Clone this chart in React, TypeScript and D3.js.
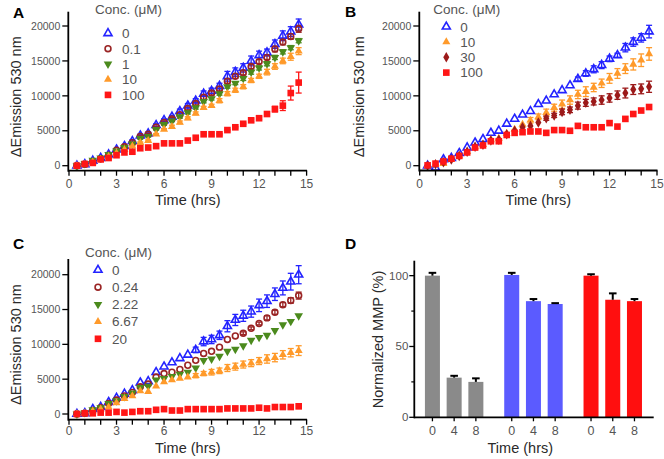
import React from 'react';
import * as d3 from 'd3';

// ---------- DATA ----------
const hours = [0.5, 1, 1.5, 2, 2.5, 3, 3.5, 4, 4.5, 5, 5.5, 6, 6.5, 7, 7.5, 8, 8.5, 9, 9.5, 10, 10.5, 11, 11.5, 12, 12.5, 13, 13.5, 14, 14.5];
const xTicks = [0, 1, 2, 3, 4, 5, 6, 7, 8, 9, 10, 11, 12, 13, 14, 15];
const xTickLabels = [0, 3, 6, 9, 12, 15];
const yTicks = [0, 5000, 10000, 15000, 20000];

// Panel A
const A_labels = ['0', '0.1', '1', '10', '100'];
const A_c0 = [0, 200, 700, 1100, 1600, 2300, 2800, 3500, 4300, 4600, 5800, 6500, 7000, 7800, 8600, 9300, 10300, 10700, 11400, 12800, 13400, 14000, 15000, 15800, 16200, 17400, 18600, 19200, 20200];
const A_c01 = [0, 200, 600, 1000, 1500, 2200, 2700, 3300, 4200, 4500, 5500, 6200, 6700, 7300, 8200, 8900, 9800, 10400, 11000, 12100, 12800, 13300, 14200, 14900, 15500, 16700, 17700, 18500, 19600];
const A_c1 = [0, 300, 800, 1100, 1600, 2100, 2600, 3100, 3900, 4200, 5200, 5900, 6400, 7000, 7600, 8300, 9200, 9600, 10300, 11300, 11800, 12500, 13400, 14000, 14600, 15500, 16300, 16900, 17900];
const A_c10 = [0, 200, 500, 900, 1300, 1800, 2300, 2800, 3300, 3600, 4500, 5200, 5600, 6200, 6800, 7500, 8300, 8600, 9300, 10300, 10800, 11300, 12200, 12800, 13400, 14200, 15000, 15600, 16400];
const A_c100 = [0, 250, 400, 900, 1100, 1500, 1900, 2000, 2500, 2600, 2800, 3200, 3200, 3200, 3600, 4000, 4500, 4500, 4500, 5100, 5500, 6000, 6500, 6800, 7400, 8100, 8600, 10400, 11900];
const A_e0 = [0, 0, 0, 0, 0, 0, 100, 200, 200, 200, 200, 200, 200, 300, 300, 300, 400, 400, 400, 700, 600, 600, 700, 600, 500, 600, 700, 700, 800];
const A_e01 = [0, 0, 0, 0, 0, 0, 0, 100, 100, 100, 100, 200, 200, 200, 200, 200, 300, 300, 300, 300, 300, 300, 300, 300, 300, 400, 400, 400, 500];
const A_e1 = [0, 0, 0, 0, 0, 0, 0, 100, 100, 100, 100, 100, 100, 200, 200, 200, 200, 200, 200, 200, 200, 300, 300, 300, 300, 300, 300, 300, 300];
const A_e10 = [0, 0, 0, 0, 0, 0, 0, 100, 100, 100, 100, 100, 200, 200, 200, 200, 200, 200, 300, 300, 300, 300, 300, 300, 400, 400, 400, 500, 500];
const A_e100 = [0, 0, 0, 0, 0, 0, 0, 0, 0, 0, 0, 0, 0, 0, 0, 0, 0, 0, 100, 100, 100, 100, 200, 200, 300, 400, 700, 1000, 1500];

// Panel B
const B_labels = ['0', '10', '30', '100'];
const B_c0 = [0, -300, 900, 1100, 1800, 2600, 3300, 3800, 4700, 5000, 6000, 6700, 7300, 7800, 8800, 9300, 10200, 10800, 11500, 12400, 13200, 13800, 14400, 15300, 15800, 16900, 17700, 18300, 19200];
const B_c10 = [0, 100, 300, 900, 1400, 2000, 2700, 3000, 3700, 3900, 4600, 5200, 5900, 6500, 7000, 7600, 8300, 8800, 9400, 10200, 10600, 11200, 11800, 12500, 13200, 13900, 14500, 15100, 16000];
const B_c30 = [0, 200, 500, 900, 1400, 2000, 2700, 3000, 3600, 3700, 4500, 5000, 5500, 5700, 6200, 6800, 7200, 7700, 8000, 8600, 9000, 9200, 9400, 9700, 10100, 10400, 10900, 11000, 11300];
const B_c100 = [50, 300, 600, 1000, 1400, 1900, 2600, 2900, 3500, 3500, 4400, 4700, 4800, 4900, 4900, 4700, 5100, 5100, 5000, 5700, 5500, 5500, 5500, 6100, 5600, 6700, 7400, 7900, 8400];
const B_e0 = [0, 0, 0, 0, 0, 0, 0, 0, 0, 0, 0, 0, 0, 0, 0, 0, 0, 0, 0, 300, 400, 500, 500, 400, 300, 600, 600, 600, 900];
const B_e10 = [0, 0, 0, 0, 0, 0, 0, 0, 0, 0, 0, 0, 0, 400, 400, 500, 500, 600, 600, 600, 700, 600, 600, 700, 700, 700, 800, 900, 900];
const B_e30 = [0, 0, 0, 0, 0, 0, 0, 0, 0, 0, 0, 0, 0, 0, 0, 300, 300, 400, 400, 500, 500, 500, 600, 600, 600, 700, 700, 700, 800];
const B_e100 = [0, 0, 0, 0, 0, 0, 0, 0, 0, 0, 0, 0, 0, 0, 0, 0, 0, 0, 0, 0, 0, 0, 0, 0, 0, 0, 0, 0, 0];

// Panel C
const C_labels = ['0', '0.24', '2.22', '6.67', '20'];
const C_c0 = [0, 100, 700, 1000, 1700, 2300, 2900, 3400, 4500, 4700, 6000, 6800, 7400, 8000, 8500, 9200, 10400, 10700, 11300, 12600, 13500, 14100, 14700, 15600, 16200, 17200, 18100, 19000, 20000];
const C_c024 = [0, 100, 500, 900, 1500, 2000, 2600, 3100, 3900, 4300, 5300, 5800, 6000, 6400, 7000, 7700, 8700, 9000, 9600, 10700, 11200, 11600, 12300, 13000, 13800, 14600, 15700, 16300, 17000];
const C_c222 = [0, 200, 600, 900, 1500, 1900, 2500, 3000, 3800, 4000, 4900, 5100, 5400, 5700, 6000, 6600, 7700, 7900, 8300, 9000, 9300, 9800, 10600, 11000, 11300, 12000, 12800, 13300, 14100];
const C_c667 = [0, 100, 400, 700, 1000, 1600, 2200, 2600, 3300, 3200, 4000, 4600, 4900, 5100, 5300, 5500, 5800, 6000, 6200, 6600, 6800, 7100, 7300, 7600, 7900, 8100, 8500, 8800, 9100];
const C_c20 = [0, 100, 100, 200, 200, 300, 200, 300, 400, 400, 600, 700, 500, 500, 700, 700, 700, 700, 700, 800, 800, 800, 800, 900, 800, 1000, 1000, 1000, 1100];
const C_e0 = [0, 0, 0, 0, 0, 0, 0, 0, 0, 0, 0, 0, 0, 0, 0, 400, 600, 600, 600, 800, 800, 800, 800, 900, 900, 900, 1000, 1200, 1300];
const C_e024 = [0, 0, 0, 0, 0, 0, 0, 0, 0, 0, 0, 0, 0, 0, 0, 0, 0, 0, 0, 0, 0, 200, 200, 200, 300, 300, 300, 400, 500];
const C_e222 = [0, 0, 0, 0, 0, 0, 0, 0, 0, 0, 0, 0, 0, 0, 0, 0, 0, 0, 0, 0, 0, 0, 0, 0, 0, 0, 0, 0, 0];
const C_e667 = [0, 0, 0, 0, 0, 0, 0, 0, 0, 0, 0, 0, 0, 0, 0, 300, 300, 400, 400, 500, 500, 500, 500, 500, 600, 600, 600, 600, 700];
const C_e20 = [0, 0, 0, 0, 0, 0, 0, 0, 0, 0, 0, 0, 0, 0, 0, 0, 0, 0, 0, 0, 0, 0, 0, 0, 0, 0, 0, 0, 0];

// Panel D
const D_groups = ['g1', 'g2', 'g3'];
const D_times = ['0', '4', '8'];
const D_g1 = [100, 28, 25];
const D_g2 = [100.5, 82, 80];
const D_g3 = [100, 83, 82];
const D_g1err = [2, 1.3, 2.5];
const D_g2err = [1.5, 1.5, 0.6];
const D_g3err = [1, 4.5, 1.5];
const D_yTicks = [0, 50, 100];
const D_yMinor = [25, 75];

// ---------- STYLE ----------
const FONT = "'Liberation Sans', Arial, Helvetica, sans-serif";
const COL = {
  blue: '#2323ff',
  maroon: '#9a2424',
  green: '#4b8a1d',
  orange: '#ff9a2a',
  red: '#ff1616',
  darkred: '#9c1a1a',
  text: '#2a2a2a',
  tick: '#555',
  legend: '#555',
};

type Shape = 'triUp' | 'circle' | 'triDown' | 'square' | 'diamond';
type Series = { label: string; values: number[]; errors: number[]; color: string; shape: Shape; open: boolean };

const symType: Record<Shape, d3.SymbolType> = {
  triUp: d3.symbolTriangle,
  triDown: d3.symbolTriangle,
  circle: d3.symbolCircle,
  square: d3.symbolSquare,
  diamond: d3.symbolDiamond,
};
const symSize: Record<Shape, number> = { triUp: 28, triDown: 32, circle: 27, square: 44, diamond: 32 };

function Marker({ s, x, y }: { s: Series; x: number; y: number }) {
  const d = d3.symbol().type(symType[s.shape]).size(symSize[s.shape])() as string;
  const rot = s.shape === 'triDown' ? ' rotate(180)' : '';
  return (
    <path
      d={d}
      transform={`translate(${x},${y})${rot}`}
      fill={s.open ? 'none' : s.color}
      stroke={s.color}
      strokeWidth={s.open ? 1.6 : 0}
    />
  );
}

type PanelCfg = {
  letter: string;
  letterX: number;
  letterY: number;
  xPx: [number, number];
  yPx: [number, number]; // px at 0, px at 20000
  axisX: number;
  axisTop: number;
  axisBottom: number;
  xLabelY: number;
  xTitleY: number;
  yTitleX: number;
  legendX: number;
  legendTitleY: number;
  legendRow0: number;
  legendStep: number;
  series: Series[];
};

function ScatterPanel({ cfg }: { cfg: PanelCfg }) {
  const x = d3.scaleLinear().domain([0, 15]).range(cfg.xPx);
  const y = d3.scaleLinear().domain([0, 20000]).range(cfg.yPx);
  const axisRight = x(15) + 0.5;
  const yMid = (cfg.axisTop + y(0)) / 2 + 8;
  return (
    <g>
      <text x={cfg.letterX} y={cfg.letterY} fontFamily={FONT} fontWeight="bold" fontSize={15.5} fill="#000">
        {cfg.letter}
      </text>
      {/* error bars */}
      {cfg.series.map((s, si) => (
        <g key={'e' + si} stroke={s.color} strokeWidth={1.3}>
          {hours.map((h, i) =>
            s.errors[i] > 0 ? (
              <g key={i}>
                <line x1={x(h)} x2={x(h)} y1={y(s.values[i] - s.errors[i])} y2={y(s.values[i] + s.errors[i])} />
                <line x1={x(h) - 3} x2={x(h) + 3} y1={y(s.values[i] + s.errors[i])} y2={y(s.values[i] + s.errors[i])} />
                <line x1={x(h) - 3} x2={x(h) + 3} y1={y(s.values[i] - s.errors[i])} y2={y(s.values[i] - s.errors[i])} />
              </g>
            ) : null
          )}
        </g>
      ))}
      {/* markers */}
      {cfg.series.map((s, si) => (
        <g key={'m' + si}>
          {hours.map((h, i) => (
            <Marker key={i} s={s} x={x(h)} y={y(s.values[i])} />
          ))}
        </g>
      ))}
      {/* axes */}
      <line x1={cfg.axisX} x2={cfg.axisX} y1={cfg.axisTop} y2={cfg.axisBottom + 1} stroke="#000" strokeWidth={1.8} />
      <line x1={cfg.axisX} x2={axisRight} y1={cfg.axisBottom} y2={cfg.axisBottom} stroke="#000" strokeWidth={1.8} />
      {yTicks.map((t) => (
        <g key={t}>
          <line x1={cfg.axisX - 6} x2={cfg.axisX} y1={y(t)} y2={y(t)} stroke="#000" strokeWidth={1.3} />
          <text x={cfg.axisX - 8} y={y(t) + 3.7} textAnchor="end" fontFamily={FONT} fontSize={10.5} fill={COL.tick}>
            {t}
          </text>
        </g>
      ))}
      {xTicks.map((t) => (
        <line key={t} x1={x(t)} x2={x(t)} y1={cfg.axisBottom} y2={cfg.axisBottom + 5} stroke="#000" strokeWidth={1.3} />
      ))}
      {xTickLabels.map((t) => (
        <text key={t} x={x(t)} y={cfg.xLabelY} textAnchor="middle" fontFamily={FONT} fontSize={12} fill={COL.tick}>
          {t}
        </text>
      ))}
      <text x={(x(0) + x(15)) / 2} y={cfg.xTitleY} textAnchor="middle" fontFamily={FONT} fontSize={14.5} fill={COL.text}>
        Time (hrs)
      </text>
      <text
        transform={`translate(${cfg.yTitleX},${yMid}) rotate(-90)`}
        textAnchor="middle"
        fontFamily={FONT}
        fontSize={14.5}
        fill={COL.text}
      >
        ΔEmission 530 nm
      </text>
      {/* legend */}
      <text x={cfg.legendX} y={cfg.legendTitleY} fontFamily={FONT} fontSize={13.5} fill={COL.legend}>
        Conc. (μM)
      </text>
      {cfg.series.map((s, i) => {
        const ly = cfg.legendRow0 + i * cfg.legendStep;
        return (
          <g key={'l' + i}>
            <Marker s={s} x={cfg.legendX + 13} y={ly} />
            <text x={cfg.legendX + 27} y={ly + 4.8} fontFamily={FONT} fontSize={13.5} fill={COL.legend}>
              {s.label}
            </text>
          </g>
        );
      })}
    </g>
  );
}

function BarPanel() {
  const groupsX = d3.scaleBand().domain(D_groups).range([414.5, 652.4]).paddingInner(0).paddingOuter(0);
  const inner = d3.scaleBand().domain(D_times).range([0, groupsX.bandwidth()]).paddingInner(0.309).paddingOuter(0.48);
  const y = d3.scaleLinear().domain([0, 110]).range([417.3, 261.5]);
  const vals = [D_g1, D_g2, D_g3];
  const errs = [D_g1err, D_g2err, D_g3err];
  const colors = ['#8a8a8a', '#5b5bff', '#ff0f0f'];
  const axisX = 414.3;
  return (
    <g>
      <text x={345} y={249} fontFamily={FONT} fontWeight="bold" fontSize={15.5} fill="#000">
        D
      </text>
      {D_groups.map((g, gi) => (
        <g key={g}>
          {D_times.map((t, ti) => {
            const bx = (groupsX(g) as number) + (inner(t) as number);
            const bw = inner.bandwidth();
            const top = y(vals[gi][ti]);
            const et = y(vals[gi][ti] + errs[gi][ti]);
            return (
              <g key={t}>
                <rect x={bx} y={top} width={bw} height={y(0) - top} fill={colors[gi]} />
                <line x1={bx + bw / 2} x2={bx + bw / 2} y1={top} y2={et} stroke="#000" strokeWidth={2} />
                <line x1={bx + bw / 2 - 3.8} x2={bx + bw / 2 + 3.8} y1={et} y2={et} stroke="#000" strokeWidth={2} />
                <line x1={bx + bw / 2} x2={bx + bw / 2} y1={y(0)} y2={y(0) + 4} stroke="#000" strokeWidth={1.3} />
                <text x={bx + bw / 2} y={435} textAnchor="middle" fontFamily={FONT} fontSize={12.5} fill={COL.tick}>
                  {t}
                </text>
              </g>
            );
          })}
        </g>
      ))}
      <line x1={axisX} x2={axisX} y1={260.7} y2={y(0) + 1} stroke="#000" strokeWidth={1.8} />
      <line x1={axisX} x2={653.7} y1={y(0)} y2={y(0)} stroke="#000" strokeWidth={1.8} />
      {D_yTicks.map((t) => (
        <g key={t}>
          <line x1={axisX - 5} x2={axisX} y1={y(t)} y2={y(t)} stroke="#000" strokeWidth={1.3} />
          <text x={axisX - 6} y={y(t) + 4} textAnchor="end" fontFamily={FONT} fontSize={11.5} fill={COL.tick}>
            {t}
          </text>
        </g>
      ))}
      {D_yMinor.map((t) => (
        <line key={t} x1={axisX - 3} x2={axisX} y1={y(t)} y2={y(t)} stroke="#000" strokeWidth={1.2} />
      ))}
      <text x={520.3} y={452.5} textAnchor="middle" fontFamily={FONT} fontSize={14.5} fill={COL.text}>
        Time (hrs)
      </text>
      <text transform="translate(382.5,339.5) rotate(-90)" textAnchor="middle" fontFamily={FONT} fontSize={14.5} fill={COL.text}>
        Normalized MMP (%)
      </text>
    </g>
  );
}

const seriesA: Series[] = [
  { label: A_labels[0], values: A_c0, errors: A_e0, color: COL.blue, shape: 'triUp', open: true },
  { label: A_labels[1], values: A_c01, errors: A_e01, color: COL.maroon, shape: 'circle', open: true },
  { label: A_labels[2], values: A_c1, errors: A_e1, color: COL.green, shape: 'triDown', open: false },
  { label: A_labels[3], values: A_c10, errors: A_e10, color: COL.orange, shape: 'triUp', open: false },
  { label: A_labels[4], values: A_c100, errors: A_e100, color: COL.red, shape: 'square', open: false },
];
const seriesB: Series[] = [
  { label: B_labels[0], values: B_c0, errors: B_e0, color: COL.blue, shape: 'triUp', open: true },
  { label: B_labels[1], values: B_c10, errors: B_e10, color: COL.orange, shape: 'triUp', open: false },
  { label: B_labels[2], values: B_c30, errors: B_e30, color: COL.darkred, shape: 'diamond', open: false },
  { label: B_labels[3], values: B_c100, errors: B_e100, color: COL.red, shape: 'square', open: false },
];
const seriesC: Series[] = [
  { label: C_labels[0], values: C_c0, errors: C_e0, color: COL.blue, shape: 'triUp', open: true },
  { label: C_labels[1], values: C_c024, errors: C_e024, color: COL.maroon, shape: 'circle', open: true },
  { label: C_labels[2], values: C_c222, errors: C_e222, color: COL.green, shape: 'triDown', open: false },
  { label: C_labels[3], values: C_c667, errors: C_e667, color: COL.orange, shape: 'triUp', open: false },
  { label: C_labels[4], values: C_c20, errors: C_e20, color: COL.red, shape: 'square', open: false },
];

const cfgA: PanelCfg = {
  letter: 'A', letterX: 13, letterY: 18,
  xPx: [69, 306.6], yPx: [165.7, 26],
  axisX: 68.3, axisTop: 11.7, axisBottom: 170.7,
  xLabelY: 187.5, xTitleY: 205, yTitleX: 20.5,
  legendX: 95, legendTitleY: 13.5, legendRow0: 33.3, legendStep: 15.4,
  series: seriesA,
};
const cfgB: PanelCfg = {
  letter: 'B', letterX: 345, letterY: 17,
  xPx: [419.7, 657], yPx: [165.7, 26],
  axisX: 419.3, axisTop: 11.7, axisBottom: 170.5,
  xLabelY: 187.5, xTitleY: 205, yTitleX: 364,
  legendX: 433.3, legendTitleY: 13.5, legendRow0: 26.7, legendStep: 15.3,
  series: seriesB,
};
const cfgC: PanelCfg = {
  letter: 'C', letterX: 13, letterY: 249,
  xPx: [69, 306.6], yPx: [414, 274.7],
  axisX: 68.3, axisTop: 259, axisBottom: 419.7,
  xLabelY: 435, xTitleY: 452.5, yTitleX: 20.5,
  legendX: 85, legendTitleY: 257, legendRow0: 270, legendStep: 17.2,
  series: seriesC,
};

export default function App() {
  return (
    <svg
      width={664}
      height={459}
      viewBox="0 0 664 459"
      style={{ position: 'absolute', left: 0, top: 0, background: '#fff' }}
    >
      <rect width={664} height={459} fill="#fff" />
      <ScatterPanel cfg={cfgA} />
      <ScatterPanel cfg={cfgB} />
      <ScatterPanel cfg={cfgC} />
      <BarPanel />
    </svg>
  );
}
